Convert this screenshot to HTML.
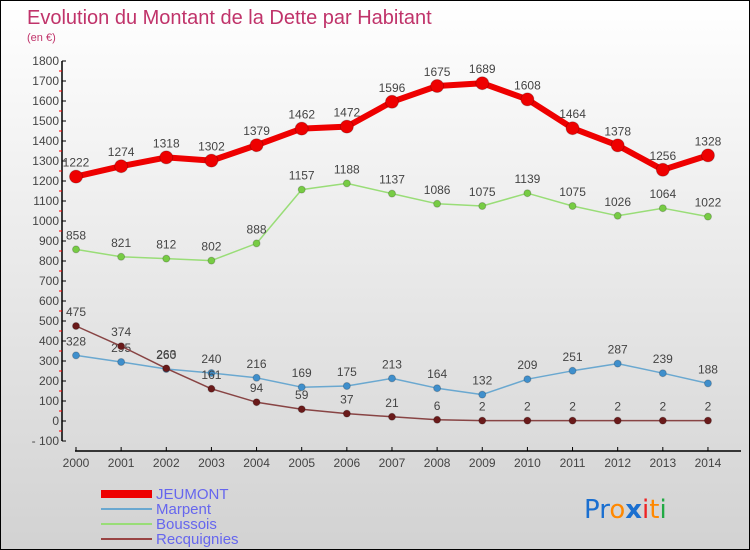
<!DOCTYPE html>
<html><head><meta charset="utf-8"><style>
body{margin:0}
#c{width:750px;height:550px;position:relative;background:linear-gradient(#ffffff,#d2d2d2);box-sizing:border-box;border:1px solid #000;font-family:"Liberation Sans",sans-serif;overflow:hidden}
</style></head><body>
<div id="c">
<svg id="s" width="750" height="550" style="position:absolute;left:0;top:0">
<text x="26" y="23" font-size="20" fill="#c0336a" font-family="Liberation Sans, sans-serif">Evolution du Montant de la Dette par Habitant</text>
<text x="26" y="40" font-size="11" fill="#c0336a">(en €)</text>
<g id="g"></g>
<g font-size="15" fill="#6666ee" font-family="Liberation Sans, sans-serif">
<rect x="100" y="489" width="51" height="8" fill="#ee0000"/>
<text x="155" y="498">JEUMONT</text>
<rect x="100" y="507" width="51" height="2" fill="#6aa8d0"/>
<text x="155" y="513">Marpent</text>
<rect x="100" y="522" width="51" height="2" fill="#99dd77"/>
<text x="155" y="528">Boussois</text>
<rect x="100" y="537" width="51" height="2" fill="#994444"/>
<text x="155" y="543">Recquignies</text>
</g>
<g font-size="26" font-family="DejaVu Sans, sans-serif">
<text x="583" y="517"><tspan fill="#1a6fd0">Pr</tspan><tspan fill="#ff8800">o</tspan><tspan fill="#1a6fd0" font-weight="bold">x</tspan><tspan fill="#ee2222">i</tspan><tspan fill="#ff8800">t</tspan><tspan fill="#22aa44">i</tspan></text>
</g>
</svg>
</div>
<script>
const years=[2000,2001,2002,2003,2004,2005,2006,2007,2008,2009,2010,2011,2012,2013,2014];
const jeumont=[1222,1274,1318,1302,1379,1462,1472,1596,1675,1689,1608,1464,1378,1256,1328];
const marpent=[328,295,260,240,216,169,175,213,164,132,209,251,287,239,188];
const boussois=[858,821,812,802,888,1157,1188,1137,1086,1075,1139,1075,1026,1064,1022];
const recquignies=[475,374,263,161,94,59,37,21,6,2,2,2,2,2,2];
const yTicks=[-100,0,100,200,300,400,500,600,700,800,900,1000,1100,1200,1300,1400,1500,1600,1700,1800];
const NS='http://www.w3.org/2000/svg';
const g=document.getElementById('g');
const X=i=>75+i*45.14;
const Y=v=>420-v*0.2;
function el(t,a,p){const e=document.createElementNS(NS,t);for(const k in a)e.setAttribute(k,a[k]);(p||g).appendChild(e);return e;}
let ya=el('line',{x1:61,y1:Y(1800),x2:61,y2:Y(-100),stroke:'#000','stroke-width':1.5});


yTicks.forEach(v=>{
 el('line',{x1:61,y1:Y(v),x2:65,y2:Y(v),stroke:'#000'});
 if(v<1800) el('line',{x1:58,y1:Y(v+50),x2:61,y2:Y(v+50),stroke:'#f00'});
 let t=el('text',{x:58,y:Y(v)+4,'text-anchor':'end','font-size':12,fill:'#444'});t.textContent=v<0?'- 100':v;
 
 
});
let xa=el('line',{x1:X(0)-1,y1:450,x2:740,y2:450,stroke:'#000','stroke-width':1.5});


years.forEach((y,i)=>{
 el('line',{x1:X(i),y1:446,x2:X(i),y2:450,stroke:'#000'});
 let t=el('text',{x:X(i),y:466,'text-anchor':'middle','font-size':12,fill:'#444'});t.textContent=y;
 
 
});
function series(d,name,col,dot,w,r){
 const sg=el('g',{});
 
 
 el('polyline',{points:d.map((v,i)=>X(i)+','+Y(v)).join(' '),fill:'none',stroke:col,'stroke-width':w,'stroke-linejoin':'round'},sg);
 d.forEach((v,i)=>{
  const c=el('circle',{cx:X(i),cy:Y(v),r:r,fill:dot,stroke:'#0003'},sg);
  
  
  const t=el('text',{x:X(i),y:Y(v)-10,'text-anchor':'middle','font-size':12,fill:'#444'},sg);t.textContent=v;
  
  
 });
}
series(boussois,'boussois','#99dd77','#77cc44',1.5,3.5);
series(marpent,'marpent','#6aa8d0','#3f8fcc',1.5,3.5);
series(recquignies,'recquignies','#884444','#6a1a1a',1.5,3.5);
series(jeumont,'jeumont','#ee0000','#ee0000',6,6.5);
</script>
</body></html>
